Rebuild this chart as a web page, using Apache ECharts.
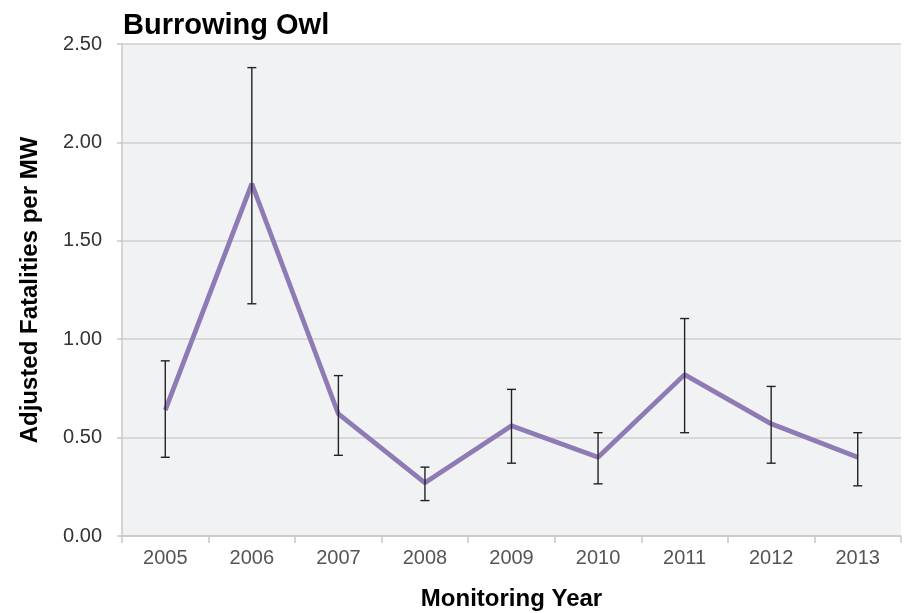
<!DOCTYPE html>
<html><head><meta charset="utf-8">
<script src="https://cdn.jsdelivr.net/npm/echarts@6/dist/echarts.min.js"></script>
<style>html,body{margin:0;padding:0;background:#fff}#c{width:906px;height:613px}</style>
</head><body><div id="c"></div>
<script>
var years = ['2005','2006','2007','2008','2009','2010','2011','2012','2013'];
var values = [0.64, 1.79, 0.62, 0.27, 0.56, 0.40, 0.82, 0.57, 0.40];
var upper = [0.89, 2.38, 0.815, 0.35, 0.745, 0.525, 1.105, 0.76, 0.525];
var lower = [0.40, 1.18, 0.41, 0.18, 0.37, 0.265, 0.525, 0.37, 0.255];
var yTicks = [0, 0.5, 1.0, 1.5, 2.0, 2.5];

var errData = years.map(function(y,i){ return [i, lower[i], upper[i]]; });
var chart = echarts.init(document.getElementById('c'), null, {renderer:'canvas'});
chart.setOption({
  animation:false,
  title:{text:'Burrowing Owl', left:118, top:6, textStyle:{fontFamily:'Liberation Sans, Arial', fontWeight:'bold', fontSize:29, color:'#000'}},
  grid:{left:122, right:5, top:44, bottom:77, show:true, backgroundColor:'#f1f2f4', borderWidth:0, containLabel:false, outerBoundsMode:'none'},
  xAxis:{type:'category', data:years, boundaryGap:true,
    name:'Monitoring Year', nameLocation:'middle', nameGap:51,
    nameTextStyle:{fontFamily:'Liberation Sans, Arial', fontWeight:'bold', fontSize:24, color:'#000'},
    axisLine:{lineStyle:{color:'#c8c8c8', width:1.5}},
    axisTick:{show:true, length:7, lineStyle:{color:'#c8c8c8', width:1.5}},
    axisLabel:{margin:12, fontFamily:'Liberation Sans, Arial', fontSize:20, color:'#555'}
  },
  yAxis:{type:'value', min:0, max:2.5, interval:0.5,
    name:'Adjusted Fatalities per MW', nameLocation:'middle', nameGap:80,
    nameTextStyle:{fontFamily:'Liberation Sans, Arial', fontWeight:'bold', fontSize:24, color:'#000'},
    axisLine:{show:true, lineStyle:{color:'#c8c8c8', width:1.5}},
    axisTick:{show:true, length:5, inside:false, lineStyle:{color:'#c8c8c8', width:1.5}},
    splitLine:{lineStyle:{color:'#cfcfcf', width:1.5}},
    axisLabel:{margin:20, fontFamily:'Liberation Sans, Arial', fontSize:20, color:'#333',
      formatter:function(v){ return yTicks.indexOf(v)>=0 ? v.toFixed(2) : ''; }}
  },
  series:[
    {type:'line', data:values, symbol:'none', lineStyle:{color:'#8e7bb5', width:4.8}, z:3},
    {type:'custom', data:errData, z:4,
      renderItem:function(params, api){
        var x = api.value(0);
        var lo = api.coord([x, api.value(1)]);
        var hi = api.coord([x, api.value(2)]);
        var hw = 4.5;
        var st = {stroke:'#222', lineWidth:1.4};
        return {type:'group', children:[
          {type:'line', shape:{x1:hi[0], y1:hi[1], x2:lo[0], y2:lo[1]}, style:st},
          {type:'line', shape:{x1:hi[0]-hw, y1:hi[1], x2:hi[0]+hw, y2:hi[1]}, style:st},
          {type:'line', shape:{x1:lo[0]-hw, y1:lo[1], x2:lo[0]+hw, y2:lo[1]}, style:st}
        ]};
      }
    }
  ]
});
</script></body></html>
